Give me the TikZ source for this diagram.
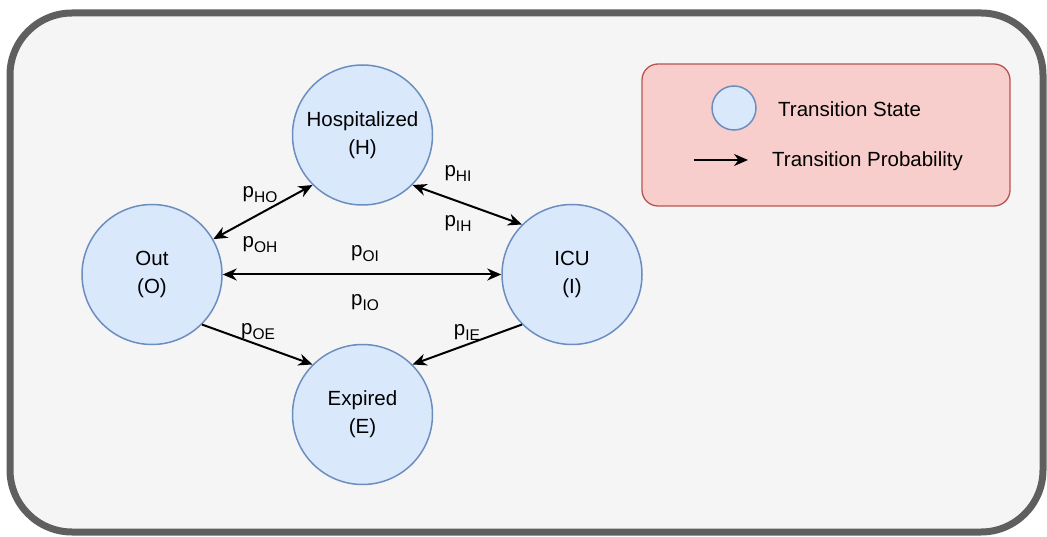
\documentclass[tikz,border=0pt]{standalone}
\usepackage{fontspec}
\setmainfont{Liberation Sans}
\usetikzlibrary{arrows.meta}
\definecolor{stfill}{HTML}{DAE8FC}
\definecolor{stdraw}{HTML}{6C8EBF}
\definecolor{lgfill}{HTML}{F8CECC}
\definecolor{lgdraw}{HTML}{B85450}
\definecolor{bgfill}{HTML}{F5F5F5}
\definecolor{bgdraw}{HTML}{5F5F5F}
\newcommand\probsub[1]{p\raisebox{-5pt}{\fontsize{15.5}{16}\selectfont #1}}
\begin{document}
\begin{tikzpicture}[x=1pt,y=-1pt,
  statenode/.style={circle, draw=stdraw, fill=stfill, line width=1.5pt, minimum size=140pt, inner sep=0pt, align=center, font=\fontsize{20.5}{28}\selectfont},
  trans/.style={line width=2pt, -{Stealth[length=14pt,width=12pt]}},
  bitrans/.style={line width=2pt, {Stealth[length=14pt,width=12pt]}-{Stealth[length=14pt,width=12pt]}},
  plabel/.style={font=\fontsize{20.5}{24}\selectfont, inner sep=0pt},
  legtext/.style={font=\fontsize{20.5}{24}\selectfont, anchor=west, inner sep=0pt}]
\useasboundingbox (0,0) rectangle (1047,537);
\draw[bgdraw, fill=bgfill, line width=7pt, rounded corners=62pt] (10,13) rectangle (1043,532);
% legend
\draw[lgdraw, fill=lgfill, line width=1.3pt, rounded corners=16pt] (642,64) rectangle (1010,206);
\node[circle, draw=stdraw, fill=stfill, line width=1.5pt, minimum size=44pt, inner sep=0pt] (lgstate) at (734,108) {};
\node[legtext] (lgstatetxt) at (778,109) {Transition State};
\coordinate (lgA) at (694,160);
\coordinate (lgB) at (748,160);
\draw[trans] (lgA) -- (lgB);
\node[legtext] (lgprobtxt) at (772,161) {Transition Probability};
% states
\node[statenode] (H) at (362.5,135) {Hospitalized\\(H)};
\node[statenode] (O) at (152,274.5) {Out\\(O)};
\node[statenode] (I) at (572,274.5) {ICU\\(I)};
\node[statenode] (E) at (362.5,414.5) {Expired\\(E)};
% transitions
\draw[bitrans] (O.30) -- (H.225);
\draw[bitrans] (H.-45) -- (I.135);
\draw[bitrans] (O.east) -- (I.west);
\draw[trans] (O.-45) -- (E.135);
\draw[trans] (I.225) -- (E.45);
% labels
\node[plabel] (pHO) at (260,195) {\probsub{HO}};
\node[plabel] (pOH) at (260,245) {\probsub{OH}};
\node[plabel] (pHI) at (458,173) {\probsub{HI}};
\node[plabel] (pIH) at (458,223) {\probsub{IH}};
\node[plabel] (pOI) at (365,254) {\probsub{OI}};
\node[plabel] (pIO) at (365,303) {\probsub{IO}};
\node[plabel] (pOE) at (258,332) {\probsub{OE}};
\node[plabel] (pIE) at (467,332) {\probsub{IE}};
\end{tikzpicture}
\end{document}
